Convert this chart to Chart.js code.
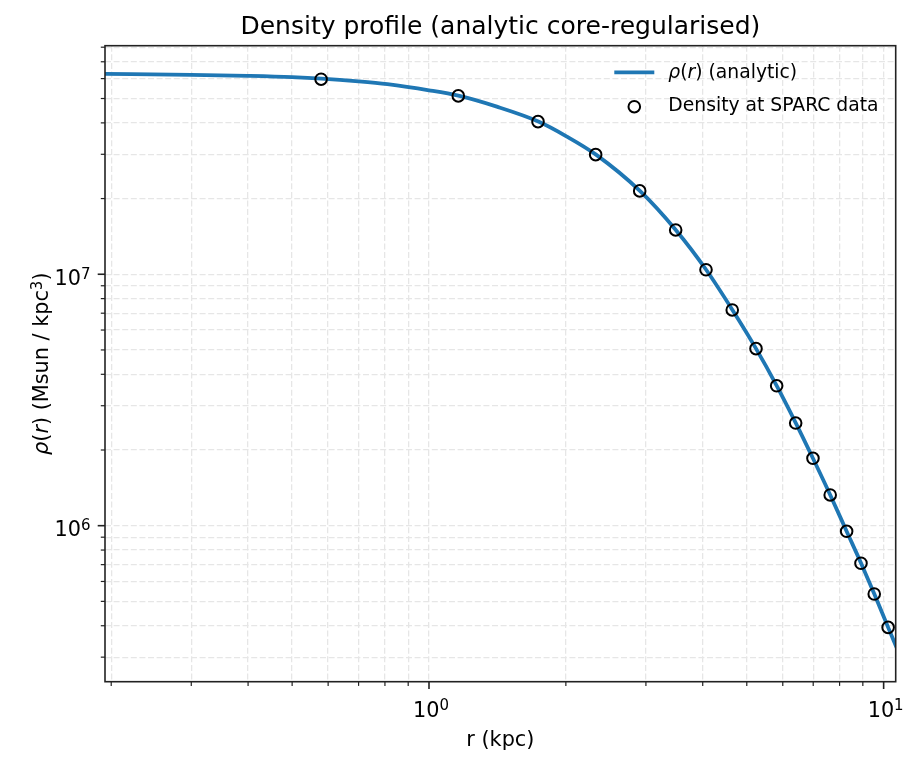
<!DOCTYPE html>
<html>
<head>
<meta charset="utf-8">
<title>Density profile</title>
<script src="https://cdn.jsdelivr.net/npm/chart.js@4.4.1/dist/chart.umd.min.js"></script>
<style>
  html, body { margin: 0; background: #fff; }
  canvas { display: block; }
</style>
</head>
<body>
<canvas id="densityChart" width="917" height="767"></canvas>
<script>
// analytic profile (kpc, Msun/kpc^3)
const curveR = [0.19, 0.30, 0.40, 0.50, 0.58, 0.70, 0.81, 1.0, 1.16, 1.41, 1.74, 2.01, 2.33, 2.91,
  3.49, 4.07, 4.65, 5.24, 5.82, 6.41, 6.99, 7.63, 8.29, 8.92, 9.54, 10.23, 10.7];
const curveRho = [6.27e7, 6.21e7, 6.15e7, 6.08e7, 6.0e7, 5.85e7, 5.70e7, 5.39e7, 5.13e7, 4.64e7,
  4.05e7, 3.53e7, 2.99e7, 2.145e7, 1.50e7, 1.042e7, 7.21e6, 5.06e6, 3.60e6, 2.56e6, 1.854e6,
  1.325e6, 9.5e5, 7.09e5, 5.35e5, 3.94e5, 3.25e5];

// density at the SPARC radii
const sparcR = [0.579, 1.16, 1.737, 2.326, 2.907, 3.488, 4.067, 4.645, 5.239, 5.817, 6.405,
  6.991, 7.629, 8.291, 8.916, 9.535, 10.23];
const sparcRho = [5.967e7, 5.12e7, 4.045e7, 2.99e7, 2.145e7, 1.50e7, 1.042e7, 7.21e6, 5.06e6,
  3.60e6, 2.56e6, 1.854e6, 1.325e6, 9.50e5, 7.09e5, 5.35e5, 3.94e5];

// axes
const xRange = [0.1938, 10.63];
const yRange = [2.396e5, 8.11e7];
const xMajor = [1, 10];
const xMajorLabels = [['10', '0'], ['10', '1']];
const xMinor = [0.2, 0.3, 0.4, 0.5, 0.6, 0.7, 0.8, 0.9, 2, 3, 4, 5, 6, 7, 8, 9];
const yMajor = [1e6, 1e7];
const yMajorLabels = [['10', '6'], ['10', '7']];
const yMinor = [3e5, 4e5, 5e5, 6e5, 7e5, 8e5, 9e5, 2e6, 3e6, 4e6, 5e6, 6e6, 7e6, 8e6, 9e6,
  2e7, 3e7, 4e7, 5e7, 6e7, 7e7, 8e7];

const FONT = '"DejaVu Sans", sans-serif';
const BLUE = '#1f77b4';
const GRID = '#e6e6e6';
const FRAME = '#222222';
const TITLE = 'Density profile (analytic core-regularised)';

function setTicks(majors, minors) {
  return scale => {
    scale.ticks = majors.concat(minors).sort((a, b) => a - b)
      .map(v => ({ value: v, major: majors.includes(v) }));
  };
}

// text made of runs, some italic and some superscript
function drawRuns(ctx, runs, x, y, size, align) {
  const fontOf = r => (r.italic ? 'italic ' : '') + (r.sup ? size * 0.72 : size) + 'px ' + FONT;
  let total = 0;
  runs.forEach(r => { ctx.font = fontOf(r); r.w = ctx.measureText(r.text).width; total += r.w; });
  let cx = x;
  if (align === 'center') cx = x - total / 2;
  if (align === 'right') cx = x - total;
  ctx.textBaseline = 'alphabetic';
  ctx.textAlign = 'left';
  runs.forEach(r => {
    ctx.font = fontOf(r);
    ctx.fillText(r.text, cx, r.sup ? y - size * 0.3 : y);
    cx += r.w;
  });
}

const rhoRuns = [{ text: 'ρ', italic: true }, { text: '(' }, { text: 'r', italic: true }, { text: ')' }];

const framePlugin = {
  id: 'frame',
  afterDraw(chart) {
    const { ctx, chartArea: a, scales } = chart;
    ctx.save();
    ctx.strokeStyle = FRAME;
    ctx.fillStyle = '#000';

    // tick marks, outward, and decade labels
    scales.x.ticks.forEach(t => {
      const px = scales.x.getPixelForValue(t.value);
      ctx.lineWidth = t.major ? 1.6 : 1.2;
      ctx.beginPath();
      ctx.moveTo(px, a.bottom);
      ctx.lineTo(px, a.bottom + (t.major ? 7.3 : 4.2));
      ctx.stroke();
      if (t.major) {
        const lab = xMajorLabels[xMajor.indexOf(t.value)];
        drawRuns(ctx, [{ text: lab[0] }, { text: lab[1], sup: true }], px + 2, a.bottom + 35, 20.8, 'center');
      }
    });
    scales.y.ticks.forEach(t => {
      const py = scales.y.getPixelForValue(t.value);
      ctx.lineWidth = t.major ? 1.6 : 1.2;
      ctx.beginPath();
      ctx.moveTo(a.left, py);
      ctx.lineTo(a.left - (t.major ? 7.3 : 4.2), py);
      ctx.stroke();
      if (t.major) {
        const lab = yMajorLabels[yMajor.indexOf(t.value)];
        drawRuns(ctx, [{ text: lab[0] }, { text: lab[1], sup: true }], a.left - 14.5, py + 10.7, 20.8, 'right');
      }
    });

    ctx.lineWidth = 1.6;
    ctx.strokeRect(a.left, a.top, a.right - a.left, a.bottom - a.top);

    // title over the plot area
    ctx.font = '25px ' + FONT;
    ctx.textAlign = 'center';
    ctx.textBaseline = 'alphabetic';
    ctx.fillText(TITLE, (a.left + a.right) / 2, 33.5);

    // y axis label
    ctx.save();
    ctx.translate(48.3, (a.top + a.bottom) / 2);
    ctx.rotate(-Math.PI / 2);
    drawRuns(ctx, rhoRuns.concat([{ text: ' (Msun / kpc' }, { text: '3', sup: true }, { text: ')' }]),
      0, 0, 20.8, 'center');
    ctx.restore();

    // legend, no frame
    const lx = a.right - 281.4;
    ctx.strokeStyle = BLUE;
    ctx.lineWidth = 3.8;
    ctx.beginPath();
    ctx.moveTo(lx, a.top + 26.6);
    ctx.lineTo(lx + 40, a.top + 26.6);
    ctx.stroke();
    ctx.strokeStyle = '#000';
    ctx.lineWidth = 2;
    ctx.beginPath();
    ctx.arc(lx + 20, a.top + 61, 5.8, 0, Math.PI * 2);
    ctx.stroke();
    drawRuns(ctx, rhoRuns.concat([{ text: ' (analytic)' }]), lx + 54, a.top + 31.8, 18.75, 'left');
    drawRuns(ctx, [{ text: 'Density at SPARC data' }], lx + 54, a.top + 65.3, 18.75, 'left');
    ctx.restore();
  }
};

const ctx = document.getElementById('densityChart');

new Chart(ctx, {
  type: 'scatter',
  data: {
    datasets: [
      {
        label: 'ρ(r) (analytic)',
        data: curveR.map((r, i) => ({ x: r, y: curveRho[i] })),
        showLine: true,
        borderColor: BLUE,
        borderWidth: 3.8,
        pointRadius: 0,
        cubicInterpolationMode: 'monotone',
        fill: false,
        order: 2
      },
      {
        label: 'Density at SPARC data',
        data: sparcR.map((r, i) => ({ x: r, y: sparcRho[i] })),
        showLine: false,
        pointRadius: 5.8,
        pointBorderWidth: 2,
        pointBorderColor: '#000',
        pointBackgroundColor: 'rgba(0,0,0,0)',
        order: 1
      }
    ]
  },
  options: {
    responsive: false,
    animation: false,
    layout: { padding: { left: 0, right: 21.3, top: 45.7, bottom: 0 } },
    scales: {
      x: {
        type: 'logarithmic',
        min: xRange[0],
        max: xRange[1],
        afterBuildTicks: setTicks(xMajor, xMinor),
        afterFit: scale => { scale.height = 85.3; },
        grid: { color: GRID, lineWidth: 1.3, drawTicks: false },
        border: { display: false, dash: [6, 2.6] },
        ticks: { display: false, autoSkip: false },
        title: {
          display: true,
          text: 'r (kpc)',
          color: '#000',
          font: { family: FONT, size: 20.8 },
          padding: { top: 0, bottom: 14 }
        }
      },
      y: {
        type: 'logarithmic',
        min: yRange[0],
        max: yRange[1],
        afterBuildTicks: setTicks(yMajor, yMinor),
        afterFit: scale => { scale.width = 105; },
        grid: { color: GRID, lineWidth: 1.3, drawTicks: false },
        border: { display: false, dash: [6, 2.6] },
        ticks: { display: false, autoSkip: false }
      }
    },
    plugins: {
      legend: { display: false },
      tooltip: { enabled: false }
    }
  },
  plugins: [framePlugin]
});
</script>
</body>
</html>
